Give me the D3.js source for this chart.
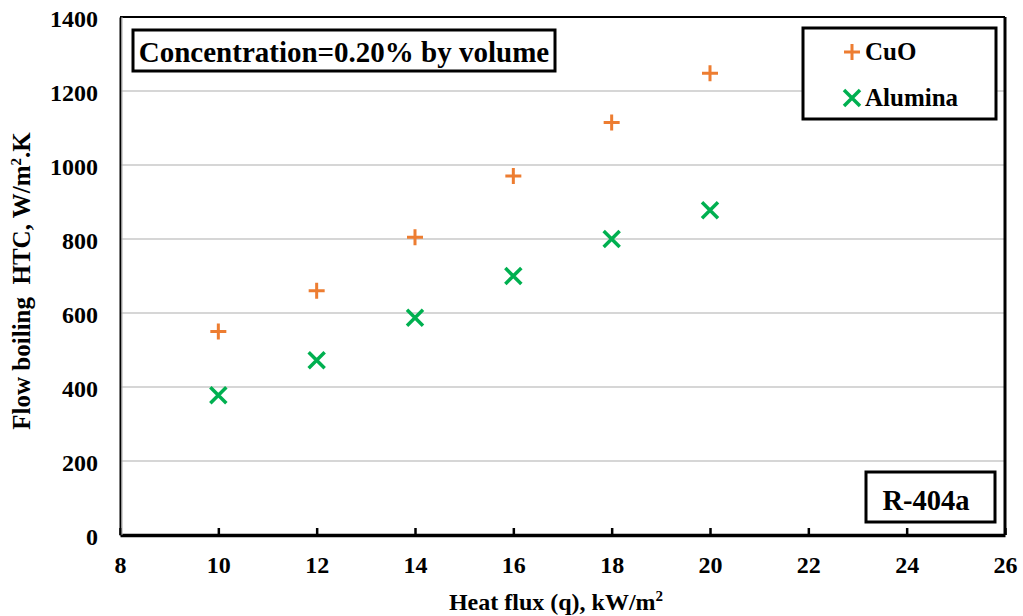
<!DOCTYPE html>
<html><head><meta charset="utf-8">
<script src="https://cdn.jsdelivr.net/npm/d3@7"></script>
<style>body{margin:0;background:#fff} svg text{font-family:"Liberation Serif","Times New Roman","DejaVu Serif",serif;font-weight:bold;fill:#000}</style>
</head><body>
<svg id="c" width="1023" height="616"></svg>
<script>
const heatFlux = [10, 12, 14, 16, 18, 20];
const cuoHTC = [550, 660, 805, 970, 1115, 1248];
const aluminaHTC = [378, 472, 587, 700, 800, 878];
const xTicks = [8, 10, 12, 14, 16, 18, 20, 22, 24, 26];
const yTicks = [0, 200, 400, 600, 800, 1000, 1200, 1400];

const svg = d3.select("#c");
const L = 120, R = 1005, T = 17, B = 535;
const x = d3.scaleLinear().domain([8, 26]).range([L, R]);
const y = d3.scaleLinear().domain([0, 1400]).range([B, T]);

// gridlines
svg.append("g").selectAll("line").data(yTicks.filter(d => d > 0)).join("line")
  .attr("x1", L).attr("x2", R).attr("y1", d => y(d)).attr("y2", d => y(d))
  .attr("stroke", "#c8c8c8").attr("stroke-width", 1.3);

// frame top/right
svg.append("line").attr("x1", L).attr("x2", R).attr("y1", T).attr("y2", T).attr("stroke", "#000").attr("stroke-width", 2);
svg.append("line").attr("x1", R).attr("x2", R).attr("y1", T).attr("y2", B).attr("stroke", "#000").attr("stroke-width", 3);

// x axis
const xAxis = d3.axisBottom(x).tickValues(xTicks).tickFormat(d3.format("d")).tickSizeInner(-7).tickSizeOuter(0).tickPadding(21);
const gx = svg.append("g").attr("transform", `translate(0,${B})`).call(xAxis);
gx.attr("font-family", null);
gx.select(".domain").attr("stroke", "#000").attr("stroke-width", 3.5);
gx.selectAll(".tick line").attr("stroke", "#000").attr("stroke-width", 2.5);
gx.selectAll("text").style("font-size", "24px");

// y axis
const yAxis = d3.axisLeft(y).tickValues(yTicks).tickFormat(d3.format("d")).tickSize(0).tickPadding(22);
const gy = svg.append("g").attr("transform", `translate(${L},0)`).call(yAxis);
gy.attr("font-family", null);
gy.select(".domain").attr("stroke", "#000").attr("stroke-width", 2);
gy.selectAll("text").style("font-size", "24px").attr("dy", "0.4em");
svg.append("line").attr("x1", L + 2).attr("x2", L + 2).attr("y1", T).attr("y2", B).attr("stroke", "#aaa").attr("stroke-width", 1);

// axis titles
const xt = svg.append("text").attr("x", 556).attr("y", 610).attr("text-anchor", "middle").style("font-size", "24px");
xt.append("tspan").text("Heat flux (q), kW/m");
xt.append("tspan").style("font-size", "15px").attr("dy", -9).text("2");

const yt = svg.append("text").attr("transform", "translate(30,281) rotate(-90)").attr("text-anchor", "middle")
  .style("font-size", "25px").style("white-space", "pre");
yt.append("tspan").text("Flow boiling  HTC, W/m");
yt.append("tspan").style("font-size", "15px").attr("dy", -9).text("2");
yt.append("tspan").attr("dy", 9).text(".K");

// markers
const plus = (g, cx, cy) => {
  g.append("path").attr("d", `M${cx-8},${cy}H${cx+8}M${cx},${cy-8}V${cy+8}`)
    .attr("stroke", "#ED7D31").attr("stroke-width", 3).attr("fill", "none");
};
const cross = (g, cx, cy) => {
  g.append("path").attr("d", `M${cx-8},${cy-8}L${cx+8},${cy+8}M${cx-8},${cy+8}L${cx+8},${cy-8}`)
    .attr("stroke", "#00B050").attr("stroke-width", 3.5).attr("fill", "none");
};
const gm = svg.append("g");
heatFlux.forEach((q, i) => plus(gm, x(q), y(cuoHTC[i])));
heatFlux.forEach((q, i) => cross(gm, x(q), y(aluminaHTC[i])));

// concentration box
svg.append("rect").attr("x", 133).attr("y", 30).attr("width", 422).attr("height", 41)
  .attr("fill", "#fff").attr("stroke", "#000").attr("stroke-width", 3);
svg.append("text").attr("x", 344).attr("y", 62).attr("text-anchor", "middle").style("font-size", "29px")
  .text("Concentration=0.20% by volume");

// legend
svg.append("rect").attr("x", 803).attr("y", 28).attr("width", 193).attr("height", 91)
  .attr("fill", "#fff").attr("stroke", "#000").attr("stroke-width", 3);
plus(svg, 852, 52);
cross(svg, 852, 98);
svg.append("text").attr("x", 865).attr("y", 60).style("font-size", "25px").text("CuO");
svg.append("text").attr("x", 865).attr("y", 106).style("font-size", "25px").text("Alumina");

// R-404a box
svg.append("rect").attr("x", 866).attr("y", 472).attr("width", 129).attr("height", 50)
  .attr("fill", "#fff").attr("stroke", "#000").attr("stroke-width", 3);
svg.append("text").attr("x", 926).attr("y", 510).attr("text-anchor", "middle").style("font-size", "28.5px").text("R-404a");
</script>
</body></html>
